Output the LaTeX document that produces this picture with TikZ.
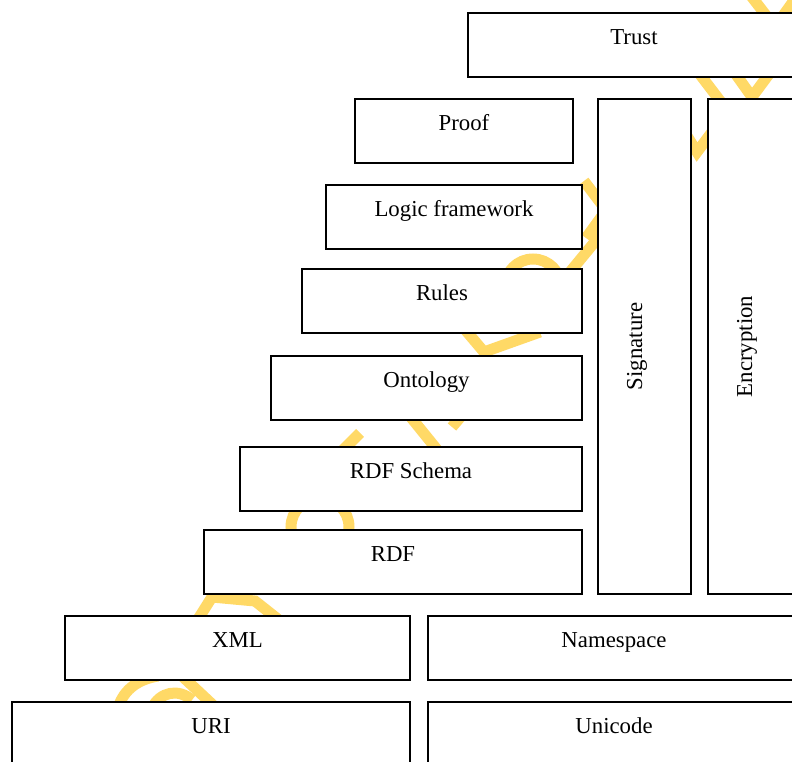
\documentclass[tikz,border=0pt]{standalone}
\usepackage{fontspec}
\setmainfont{Liberation Serif}
\usetikzlibrary{fit}
\definecolor{wmgold}{RGB}{255,217,102}
\tikzset{
  layer/.style={draw=black, line width=1.8pt, fill=white, rectangle,
                inner sep=0pt, outer sep=0pt},
  lbl/.style={font=\fontsize{22.8}{27}\selectfont, inner sep=0pt, anchor=base},
  wm/.style={draw=wmgold, line width=11pt, line cap=butt, line join=miter}
}
% #1 name, (#2,#3) top-left, (#4,#5) bottom-right, #6 caption
\newcommand{\stackbox}[6]{%
  \node[layer, fit={(#2,#3) (#4,#5)}] (#1) {};
  \node[lbl] (#1-t) at ([yshift=-31.5pt]#1.north) {#6};}
\newcommand{\pillar}[6]{%
  \node[layer, fit={(#2,#3) (#4,#5)}] (#1) {};
  \node[lbl, rotate=90] (#1-t) at ([xshift=44pt]#1.west) {#6};}

\begin{document}
\begin{tikzpicture}[x=1pt, y=-1pt]
  \useasboundingbox (0,0) rectangle (792,762);
  \fill[white] (0,0) rectangle (792,762);
  \clip (0,0) rectangle (792,762);

  % faint watermark strokes lying behind the layers
  \draw[wm] (748,-8) -- (775,27) -- (800,-8);
  \draw[wm] (692,64) -- (724,106);
  \draw[wm] (727,62) -- (752,97) -- (778,62);
  \draw[wm] (682,128) -- (697,152) -- (715,128);
  \draw[wm] (584,181) -- (606,210);
  \draw[wm] (602,216) -- (586,238);
  \draw[wm] (603,232) -- (565,278);
  \draw[wm] (533,287) circle (28);
  \draw[wm] (462,326) -- (484,352) -- (540,332);
  \draw[wm] (330,463) -- (360,433);
  \draw[wm] (405,410) -- (443,457);
  \draw[wm] (452,427) -- (475,400);
  \draw[wm] (320,527) circle (29);
  \draw[wm] (195,624) -- (212,597) -- (255,601) -- (284,624);
  \draw[wm] (118,708) .. controls (124,688) and (140,679) .. (158,676);
  \draw[wm] (152,708) .. controls (160,692) and (178,688) .. (192,700);
  \draw[wm] (182,676) -- (214,706);

  % upper stack
  \stackbox{trust}{468}{13}{800}{77}{Trust}
  \stackbox{proof}{355}{99}{573}{163}{Proof}
  \stackbox{logic}{326}{185}{582}{249}{Logic framework}
  \stackbox{rules}{302}{269}{582}{333}{Rules}
  \stackbox{onto}{271}{356}{582}{420}{Ontology}
  \stackbox{rdfs}{240}{447}{582}{511}{RDF Schema}
  \stackbox{rdf}{204}{530}{582}{594}{RDF}

  % vertical pillars
  \pillar{sig}{598}{99}{691}{594}{Signature}
  \pillar{enc}{708}{99}{801}{594}{Encryption}

  % base layers
  \stackbox{xml}{65}{616}{410}{680}{XML}
  \stackbox{ns}{428}{616}{800}{680}{Namespace}
  \stackbox{uri}{12}{702}{410}{770}{URI}
  \stackbox{uni}{428}{702}{800}{770}{Unicode}
\end{tikzpicture}
\end{document}
